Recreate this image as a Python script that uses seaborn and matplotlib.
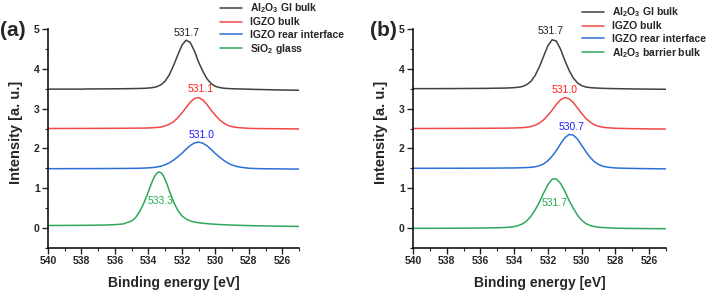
import numpy as np
import pandas as pd
import matplotlib
matplotlib.use("Agg")
import matplotlib.pyplot as plt
import seaborn as sns

# ---------------- data ----------------
energy = [540, 539.5, 539, 538.5, 538, 537.5, 537, 536.5, 536, 535.5,
          535, 534.75, 534.5, 534.25, 534, 533.75, 533.5, 533.25, 533, 532.75,
          532.5, 532.25, 532, 531.75, 531.5, 531.25, 531, 530.75, 530.5, 530.25,
          530, 529.75, 529.5, 529.25, 529, 528.75, 528.5, 528, 527.5, 527,
          526.5, 526, 525.5, 525]

# SiO2 glass spectrum is sampled more finely around its narrow peak
energy_sio2 = [540, 539.5, 539, 538.5, 538, 537.5, 537, 536.5, 536, 535.5,
               535, 534.75, 534.5, 534.25, 534, 533.875, 533.75, 533.625, 533.5, 533.375,
               533.25, 533.125, 533, 532.875, 532.75,
               532.5, 532.25, 532, 531.75, 531.5, 531.25, 531, 530.75, 530.5, 530.25,
               530, 529.75, 529.5, 529.25, 529, 528.75, 528.5, 528, 527.5, 527,
               526.5, 526, 525.5, 525]

a_al2o3_gi = [3.49, 3.49, 3.49, 3.49, 3.49, 3.495, 3.495, 3.497, 3.498, 3.50,
              3.503, 3.505, 3.507, 3.511, 3.517, 3.528, 3.551, 3.60, 3.69, 3.85,
              4.08, 4.34, 4.59, 4.72, 4.66, 4.45, 4.17, 3.94, 3.75, 3.63,
              3.56, 3.53, 3.513, 3.505, 3.50, 3.496, 3.494, 3.488, 3.482, 3.477,
              3.472, 3.468, 3.465, 3.462]
a_igzo_bulk = [2.502, 2.502, 2.502, 2.503, 2.503, 2.504, 2.504, 2.505, 2.506, 2.507,
               2.509, 2.51, 2.511, 2.512, 2.516, 2.52, 2.527, 2.539, 2.565, 2.605,
               2.672, 2.768, 2.89, 3.025, 3.161, 3.255, 3.278, 3.22, 3.105, 2.961,
               2.834, 2.72, 2.638, 2.581, 2.547, 2.529, 2.519, 2.505, 2.50, 2.498,
               2.496, 2.494, 2.492, 2.49]
a_igzo_rear = [1.492, 1.492, 1.493, 1.493, 1.494, 1.494, 1.495, 1.496, 1.497, 1.498,
               1.50, 1.502, 1.504, 1.507, 1.513, 1.52, 1.534, 1.555, 1.59, 1.64,
               1.706, 1.788, 1.877, 1.981, 2.073, 2.137, 2.16, 2.132, 2.068, 1.976,
               1.872, 1.783, 1.701, 1.634, 1.585, 1.55, 1.529, 1.503, 1.494, 1.49,
               1.488, 1.486, 1.484, 1.482]
a_sio2 = [0.065, 0.066, 0.067, 0.068, 0.069, 0.071, 0.074, 0.078, 0.086, 0.105,
          0.18, 0.27, 0.43, 0.65, 0.915, 1.06, 1.19, 1.305, 1.375, 1.41,
          1.39, 1.33, 1.22, 1.09, 0.935,
          0.66, 0.45, 0.31, 0.23, 0.178, 0.152, 0.135, 0.122, 0.112, 0.103,
          0.096, 0.09, 0.085, 0.08, 0.076, 0.072, 0.069, 0.063, 0.058, 0.054,
          0.05, 0.047, 0.044, 0.042]

b_al2o3_gi = [3.502, 3.502, 3.503, 3.503, 3.504, 3.504, 3.506, 3.507, 3.508, 3.51,
              3.514, 3.515, 3.517, 3.521, 3.527, 3.538, 3.557, 3.604, 3.688, 3.84,
              4.058, 4.321, 4.581, 4.73, 4.697, 4.49, 4.212, 3.967, 3.772, 3.648,
              3.577, 3.543, 3.528, 3.52, 3.515, 3.51, 3.507, 3.502, 3.498, 3.495,
              3.492, 3.49, 3.488, 3.486]
b_igzo_bulk = [2.502, 2.502, 2.502, 2.503, 2.503, 2.504, 2.504, 2.505, 2.506, 2.507,
               2.509, 2.509, 2.51, 2.512, 2.515, 2.518, 2.523, 2.533, 2.55, 2.583,
               2.637, 2.722, 2.833, 2.962, 3.107, 3.224, 3.278, 3.25, 3.153, 3.016,
               2.88, 2.756, 2.663, 2.596, 2.557, 2.533, 2.521, 2.506, 2.502, 2.497,
               2.494, 2.491, 2.489, 2.487]
b_igzo_rear = [1.502, 1.502, 1.502, 1.503, 1.503, 1.503, 1.504, 1.504, 1.505, 1.506,
               1.507, 1.508, 1.509, 1.51, 1.511, 1.513, 1.517, 1.521, 1.528, 1.54,
               1.568, 1.614, 1.692, 1.807, 1.947, 2.117, 2.267, 2.352, 2.336, 2.236,
               2.078, 1.92, 1.777, 1.67, 1.598, 1.555, 1.532, 1.51, 1.503, 1.499,
               1.495, 1.492, 1.489, 1.487]
b_al2o3_barrier = [-0.007, -0.006, -0.006, -0.005, -0.004, -0.003, -0.002, 0.0, 0.002, 0.005,
                   0.009, 0.012, 0.017, 0.025, 0.037, 0.064, 0.107, 0.184, 0.30, 0.462,
                   0.655, 0.884, 1.09, 1.23, 1.235, 1.12, 0.926, 0.697, 0.5, 0.326,
                   0.198, 0.114, 0.064, 0.038, 0.023, 0.014, 0.009, -0.003, -0.006, -0.009,
                   -0.011, -0.013, -0.014, -0.015]

labels_a = ["Al$_2$O$_3$ GI bulk", "IGZO bulk", "IGZO rear interface", "SiO$_2$ glass"]
labels_b = ["Al$_2$O$_3$ GI bulk", "IGZO bulk", "IGZO rear interface", "Al$_2$O$_3$ barrier bulk"]

peak_text_a = ["531.7", "531.1", "531.0", "533.3"]
peak_x_a = [531.7, 530.85, 530.8, 533.3]
peak_y_a = [4.91, 3.49, 2.35, 0.68]
peak_text_b = ["531.7", "531.0", "530.7", "531.7"]
peak_x_b = [531.87, 531.04, 530.62, 531.63]
peak_y_b = [4.94, 3.48, 2.54, 0.63]

line_colors = ["#404040", "#f04848", "#2c6fd9", "#2fa85b"]
text_colors = ["#1e1e1e", "#ff1e1e", "#1e1eff", "#22b050"]

x_ticks = [540, 538, 536, 534, 532, 530, 528, 526]
y_ticks = [0, 1, 2, 3, 4, 5]

# ---------------- style ----------------
sns.set_style("ticks")
plt.rcParams["font.family"] = ["Liberation Sans", "DejaVu Sans"]
plt.rcParams["mathtext.fontset"] = "custom"
plt.rcParams["mathtext.rm"] = "Liberation Sans:bold"
plt.rcParams["mathtext.bf"] = "Liberation Sans:bold"
plt.rcParams["mathtext.default"] = "rm"

fig = plt.figure(figsize=(7.08, 2.94), dpi=100)
W, H = 708.0, 294.0


def make_panel(left_px, right_px, series, energies, labels, ptxt, px, py, tag, tag_xy,
               leg_xy, ylab_x):
    ax = fig.add_axes([left_px / W, 46 / H, (right_px - left_px) / W, 219 / H])
    df = pd.concat([pd.DataFrame({"E": e, "I": s, "name": lab})
                    for s, e, lab in zip(series, energies, labels)], ignore_index=True)
    sns.lineplot(data=df, x="E", y="I", hue="name", palette=line_colors,
                 hue_order=labels, ax=ax, linewidth=1.1, sort=False,
                 estimator=None, legend=False)
    ax.set_xlim(540, 525)
    ax.set_ylim(-0.5, 5)
    ax.set_xticks(x_ticks)
    ax.set_xticks([539, 537, 535, 533, 531, 529, 527, 525], minor=True)
    ax.set_yticks(y_ticks)
    ax.set_yticks([-0.5, 0.5, 1.5, 2.5, 3.5, 4.5], minor=True)
    ax.tick_params(axis="both", which="major", direction="out", length=4, width=1,
                   labelsize=7.5, pad=2)
    ax.tick_params(axis="both", which="minor", direction="out", length=2, width=0.8)
    for lab in ax.get_xticklabels() + ax.get_yticklabels():
        lab.set_fontweight("bold")
    for sp in ["top", "right"]:
        ax.spines[sp].set_visible(False)
    for sp in ["left", "bottom"]:
        ax.spines[sp].set_linewidth(1.1)
        ax.spines[sp].set_color("black")
    ax.set_xlabel("Binding energy [eV]", fontsize=10, fontweight="bold")
    ax.set_ylabel("Intensity [a. u.]", fontsize=10.5, fontweight="bold")
    ax.xaxis.set_label_coords(0.5, -0.13)
    ax.yaxis.set_label_coords(ylab_x, 0.53)
    for t, x, y, c in zip(ptxt, px, py, text_colors):
        ax.text(x, y, t, color=c, fontsize=7.5, ha="center", va="center")
    fig.text(tag_xy[0] / W, 1 - tag_xy[1] / H, tag, fontsize=15, fontweight="bold",
             ha="center", va="center")
    handles = [plt.Line2D([], [], color=c, lw=1.1) for c in line_colors]
    leg = ax.legend(handles, labels, loc="upper left",
                    bbox_to_anchor=(leg_xy[0] / W, 1 - leg_xy[1] / H),
                    bbox_transform=fig.transFigure, frameon=False, borderpad=0,
                    fontsize=7.5, handlelength=2.1, handletextpad=0.75, labelspacing=0.22)
    for txt in leg.get_texts():
        txt.set_fontweight("bold")
    return ax


make_panel(48, 299, [a_al2o3_gi, a_igzo_bulk, a_igzo_rear, a_sio2],
           [energy, energy, energy, energy_sio2], labels_a,
           peak_text_a, peak_x_a, peak_y_a, "(a)", (13, 31), (215, -4), -0.10)
make_panel(413, 666, [b_al2o3_gi, b_igzo_bulk, b_igzo_rear, b_al2o3_barrier],
           [energy, energy, energy, energy], labels_b,
           peak_text_b, peak_x_b, peak_y_b, "(b)", (383, 31), (577, 0), -0.10)

fig.savefig("out.png", dpi=100)
